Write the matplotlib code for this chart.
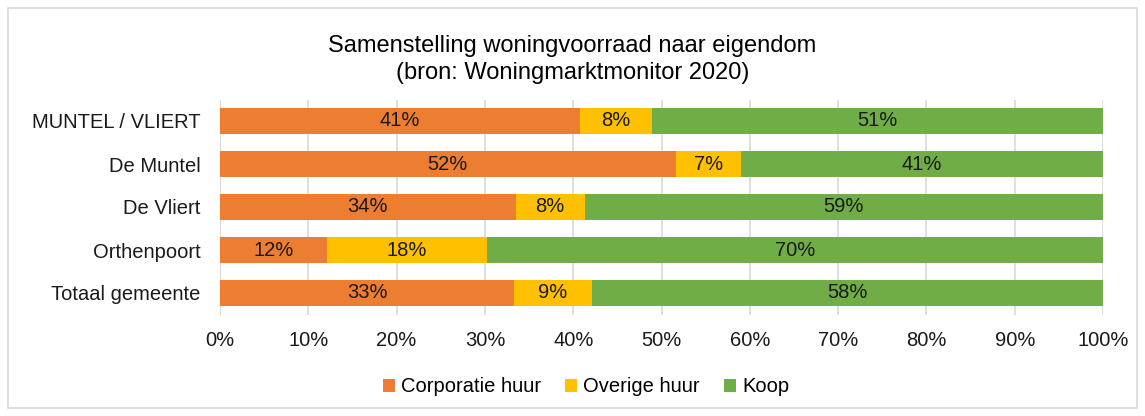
import matplotlib.pyplot as plt
import numpy as np
from matplotlib.patches import Rectangle

plt.rcParams['font.family'] = ['Liberation Sans', 'DejaVu Sans']

categories = ['MUNTEL / VLIERT', 'De Muntel', 'De Vliert', 'Orthenpoort', 'Totaal gemeente']
corporatie = [40.8, 51.6, 33.5, 12.1, 33.3]
overige = [8.1, 7.4, 7.8, 18.1, 8.8]
koop = [51.1, 41.0, 58.7, 69.8, 57.9]
series_names = ['Corporatie huur', 'Overige huur', 'Koop']
colors = ['#ED7D31', '#FFC000', '#70AD47']

fig = plt.figure(figsize=(11.45, 4.16), dpi=100)
fig.patches.append(Rectangle((8/1145, 8/416), 1 - 16/1145, 1 - 16/416, transform=fig.transFigure,
                             fill=False, edgecolor='#D9D9D9', linewidth=1.2))
ax = fig.add_axes([220/1145, 101.5/416, 883/1145, 215/416])

y = np.arange(len(categories))
left = np.zeros(len(categories))
for vals, name, c in zip([corporatie, overige, koop], series_names, colors):
    vals = np.array(vals)
    ax.barh(y, vals, left=left, height=0.6, color=c, label=name, zorder=3)
    for yi, l, v in zip(y, left, vals):
        ax.text(l + v / 2, yi, f'{round(v):.0f}%', ha='center', va='center', fontsize=14.5, color='#1a1a1a', zorder=4)
    left += vals

ax.set_xlim(0, 100)
ax.set_ylim(len(categories) - 0.5, -0.5)
ax.set_yticks(y)
ax.set_yticklabels(categories, fontsize=14.5)
ax.set_xticks(np.arange(0, 101, 10))
ax.set_xticklabels([f'{t}%' for t in range(0, 101, 10)], fontsize=14.5)
ax.tick_params(axis='both', length=0, colors='#1a1a1a')
ax.tick_params(axis='y', pad=14)
ax.tick_params(axis='x', pad=12)
ax.grid(axis='x', color='#D9D9D9', linewidth=1.2, zorder=0)
for s in ax.spines.values():
    s.set_visible(False)
ax.axvline(0, color='#D9D9D9', linewidth=1.2, zorder=1)

fig.text(0.5, 1 - 46/416, 'Samenstelling woningvoorraad naar eigendom', ha='center', va='center', fontsize=17)
fig.text(0.5, 1 - 73/416, '(bron: Woningmarktmonitor 2020)', ha='center', va='center', fontsize=17)

fig.legend(loc='center', bbox_to_anchor=(586/1145, 1 - 387/416), ncol=3, frameon=False, fontsize=14.5,
           handlelength=0.6, handleheight=0.6, handletextpad=0.3, columnspacing=1.2)

fig.savefig('out.png', dpi=100)
